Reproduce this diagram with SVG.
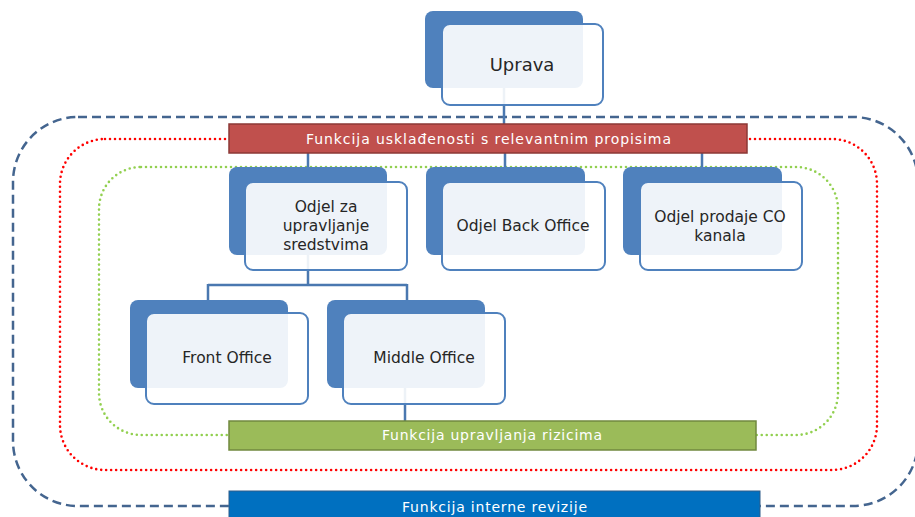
<svg xmlns="http://www.w3.org/2000/svg" width="915" height="517" viewBox="0 0 915 517">
<style>
.back{fill:#4F81BD}
.front{fill:#FFFFFF;fill-opacity:0.9;stroke:#4F81BD;stroke-width:2}
.lbl{font-family:"DejaVu Sans","Open Sans",sans-serif;font-size:15.5px;fill:#262626;text-anchor:middle}
.bar{font-family:"DejaVu Sans","Open Sans",sans-serif;font-size:14px;fill:#FFFFFF;text-anchor:middle}
.conn{stroke:#4A78B0;stroke-width:2.5;fill:none}
</style>
<rect width="915" height="517" fill="#FFFFFF"/>
<g id="loops" fill="none">
<rect id="loop-audit" x="13" y="117" width="905" height="389" rx="65" stroke="#44658F" stroke-width="2.5" stroke-dasharray="9 5"/>
<rect id="loop-compliance" x="60" y="139" width="817" height="331" rx="45" stroke="#FF0000" stroke-width="2.6" stroke-dasharray="0 5" stroke-linecap="round"/>
<rect id="loop-risk" x="99" y="167" width="739" height="268" rx="42" stroke="#92D050" stroke-width="2.6" stroke-dasharray="0 5" stroke-linecap="round"/>
</g>
<g id="connectors" class="conn">
<path d="M504 88V124"/>
<path d="M308 153V167M505 153V167M702 153V167"/>
<path d="M308 255V285M208 285H407M208 284V300M407 284V300"/>
<path d="M405 388V421"/>
</g>
<g id="uprava">
<rect class="back" x="425" y="11" width="158" height="77" rx="8"/>
<rect class="front" x="442" y="24" width="161" height="81" rx="8"/>
<text class="lbl" x="522" y="71" style="font-size:18px">Uprava</text>
</g>
<g id="odjel-sredstva">
<rect class="back" x="229" y="167" width="158" height="88" rx="8"/>
<rect class="front" x="245" y="182" width="162" height="88" rx="8"/>
<text class="lbl" x="326" y="212">Odjel za</text>
<text class="lbl" x="326" y="231">upravljanje</text>
<text class="lbl" x="326" y="250">sredstvima</text>
</g>
<g id="odjel-back-office">
<rect class="back" x="426" y="167" width="159" height="88" rx="8"/>
<rect class="front" x="442" y="182" width="163" height="88" rx="8"/>
<text class="lbl" x="523" y="231">Odjel Back Office</text>
</g>
<g id="odjel-prodaje">
<rect class="back" x="623" y="167" width="159" height="88" rx="8"/>
<rect class="front" x="640" y="182" width="162" height="88" rx="8"/>
<text class="lbl" x="720" y="222">Odjel prodaje CO</text>
<text class="lbl" x="720" y="241">kanala</text>
</g>
<g id="front-office">
<rect class="back" x="130" y="300" width="158" height="88" rx="8"/>
<rect class="front" x="146" y="313" width="162" height="91" rx="8"/>
<text class="lbl" x="227" y="363">Front Office</text>
</g>
<g id="middle-office">
<rect class="back" x="327" y="300" width="158" height="88" rx="8"/>
<rect class="front" x="343" y="313" width="162" height="91" rx="8"/>
<text class="lbl" x="424" y="363">Middle Office</text>
</g>
<g id="funkcija-uskladenosti">
<rect x="229" y="124" width="518" height="29" fill="#C0504D" stroke="#8C3836" stroke-width="1.5"/>
<text class="bar" x="488.5" y="144" textLength="365" lengthAdjust="spacing">Funkcija usklađenosti s relevantnim propisima</text>
</g>
<g id="funkcija-rizici">
<rect x="229" y="421" width="527" height="29" fill="#9BBB59" stroke="#71893F" stroke-width="1.5"/>
<text class="bar" x="492" y="440" textLength="220" lengthAdjust="spacing">Funkcija upravljanja rizicima</text>
</g>
<g id="funkcija-revizija">
<rect x="229" y="491" width="531" height="34" fill="#0070C0" stroke="#2E5C8A" stroke-width="1"/>
<text class="bar" x="494.5" y="512" textLength="185" lengthAdjust="spacing">Funkcija interne revizije</text>
</g>
</svg>
